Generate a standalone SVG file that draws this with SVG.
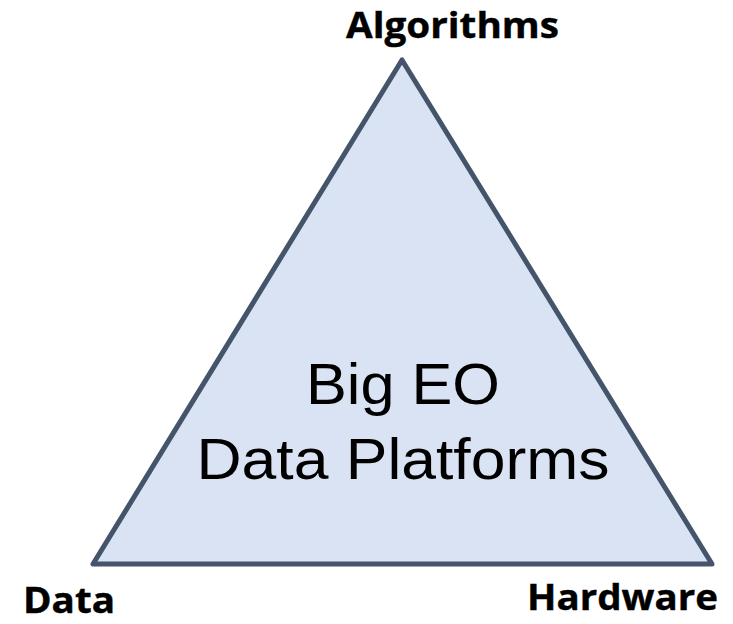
<svg xmlns="http://www.w3.org/2000/svg" width="733" height="624" viewBox="0 0 733 624">
<style>
.lbl{font-family:"Open Sans","Liberation Sans",sans-serif;font-weight:bold;font-size:35px;fill:#000;stroke:#000;stroke-width:0.4}
.ctr{font-family:"Liberation Sans",Arial,sans-serif;font-size:57px;fill:#000;text-anchor:middle}
.tri{fill:#dae3f3;stroke:#44546a;stroke-width:5;stroke-linejoin:round}
</style>
<rect width="733" height="624" fill="#fff"/>
<g id="platform">
<polygon class="tri" points="402,60 93,564 712,564"/>
<text class="ctr" x="403" y="404" textLength="194" lengthAdjust="spacingAndGlyphs">Big EO</text>
<text class="ctr" x="403" y="479" textLength="413" lengthAdjust="spacingAndGlyphs">Data Platforms</text>
</g>
<g id="connectors"></g>
<g id="algorithms"><text class="lbl" x="346" y="38" textLength="213" lengthAdjust="spacingAndGlyphs">Algorithms</text></g>
<g id="data"><text class="lbl" x="23" y="613" textLength="92" lengthAdjust="spacingAndGlyphs">Data</text></g>
<g id="hardware"><text class="lbl" x="527" y="610" textLength="191" lengthAdjust="spacingAndGlyphs">Hardware</text></g>
</svg>
